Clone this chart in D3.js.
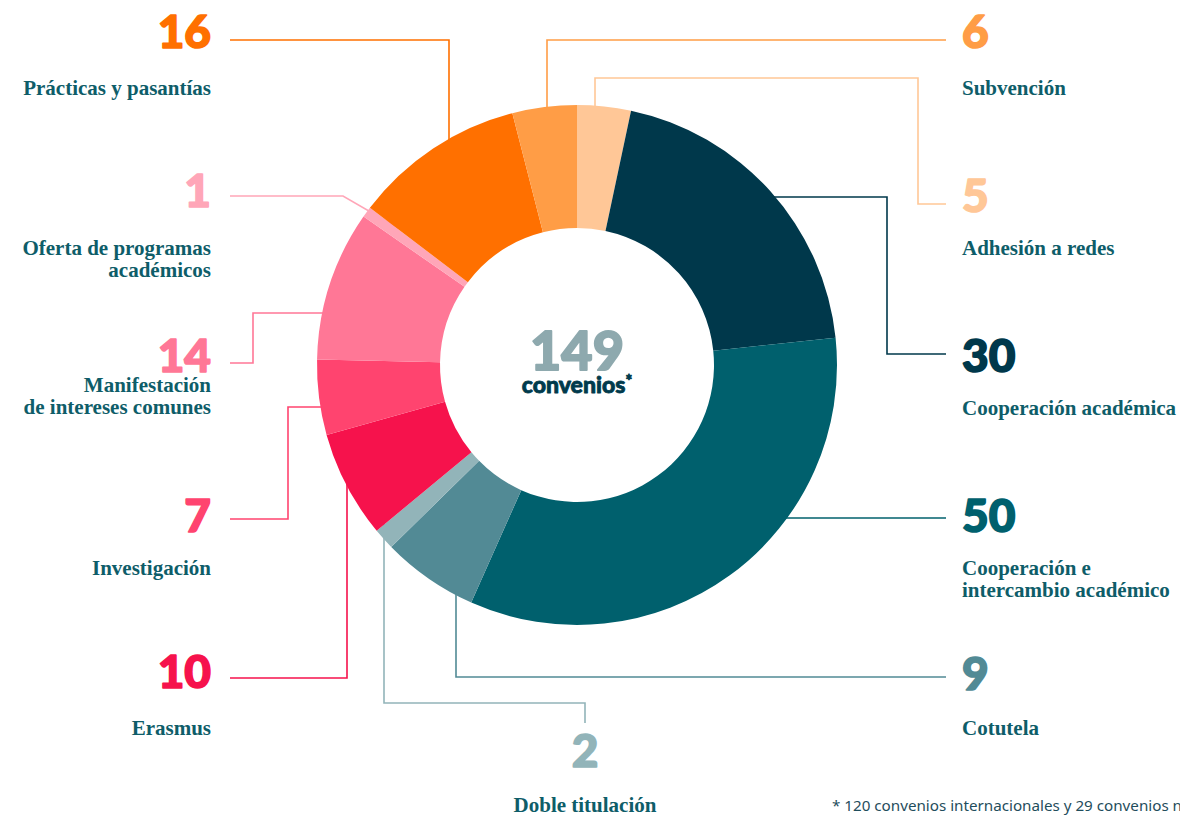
<!DOCTYPE html>
<html>
<head>
<meta charset="utf-8">
<script src="https://cdn.jsdelivr.net/npm/d3@7"></script>
<style>
    body { margin: 0; background: #fff; }
    svg { display: block; }
</style>
</head>
<body>
<div id="viz"></div>
<script>
// data, clockwise from the top
const categories = ["Adhesión a redes", "Cooperación académica", "Cooperación e intercambio académico", "Cotutela", "Doble titulación", "Erasmus", "Investigación", "Manifestación de intereses comunes", "Oferta de programas académicos", "Prácticas y pasantías", "Subvención"];
const values = [5, 30, 50, 9, 2, 10, 7, 14, 1, 16, 6];
const labelLines = [["Adhesión a redes"], ["Cooperación académica"], ["Cooperación e", "intercambio académico"], ["Cotutela"], ["Doble titulación"], ["Erasmus"], ["Investigación"], ["Manifestación", "de intereses comunes"], ["Oferta de programas", "académicos"], ["Prácticas y pasantías"], ["Subvención"]];
const sliceColors = ["#ffc797", "#00384b", "#00606d", "#528a95", "#92b4b9", "#f6124c", "#ff446f", "#ff7796", "#ffa6b8", "#ff7000", "#ff9d46"];
const totalLabel = "149";
const footnote = "* 120 convenios internacionales y 29 convenios nacionales";

document.addEventListener("DOMContentLoaded", () => {
    const width = 1180;
    const height = 817;
    const cx = 577, cy = 365;
    const outerR = 260, innerR = 137;
    const textColor = "#0e5d69";
    const numFont = "'Lato Black', Lato, sans-serif";

    // where each label sits and how its leader line runs
    const layout = [
        {x: 962, anchor: "start", numY: 212, labY: 255, pts: [[946, 204], [918, 204], [918, 78], [595, 78], [595, 150]]},
        {x: 962, anchor: "start", numY: 372, labY: 415, pts: [[946, 354], [887, 354], [887, 197], [740, 197]]},
        {x: 962, anchor: "start", numY: 532, labY: 575, pts: [[946, 518], [740, 518]]},
        {x: 962, anchor: "start", numY: 690, labY: 735, pts: [[946, 677], [456, 677], [456, 560]]},
        {x: 585, anchor: "middle", numY: 767, labY: 812, pts: [[585, 723], [585, 703], [384, 703], [384, 510]]},
        {x: 211, anchor: "end", numY: 688, labY: 735, pts: [[230, 678], [347, 678], [347, 460]]},
        {x: 211, anchor: "end", numY: 532, labY: 575, pts: [[230, 519], [288, 519], [288, 407], [350, 407]]},
        {x: 211, anchor: "end", numY: 372, labY: 392, pts: [[230, 363], [253, 363], [253, 313], [350, 313]]},
        {x: 211, anchor: "end", numY: 207, labY: 255, pts: [[230, 196], [343, 196], [400, 229]]},
        {x: 211, anchor: "end", numY: 48, labY: 95, pts: [[230, 40], [449, 40], [449, 170]]},
        {x: 962, anchor: "start", numY: 48, labY: 95, pts: [[946, 40], [547, 40], [547, 140]]}
    ];

    const svg = d3.select("#viz").append("svg")
        .attr("width", width)
        .attr("height", height);

    const rows = categories.map((c, i) => ({
        name: c,
        value: values[i],
        lines: labelLines[i],
        color: sliceColors[i],
        pos: layout[i]
    }));

    // leader lines go under the ring
    const line = d3.line();
    svg.append("g").selectAll("path")
        .data(rows)
        .enter()
        .append("path")
        .attr("d", d => line(d.pos.pts))
        .attr("fill", "none")
        .attr("stroke", d => d.color)
        .attr("stroke-width", 1.6);

    const pie = d3.pie().sort(null).value(d => d.value);
    const arc = d3.arc().innerRadius(innerR).outerRadius(outerR);

    svg.append("g")
        .attr("transform", `translate(${cx},${cy})`)
        .selectAll("path")
        .data(pie(rows))
        .enter()
        .append("path")
        .attr("d", arc)
        .attr("fill", d => d.data.color);

    // numbers (stroked a little to look heavier)
    svg.append("g").selectAll("text")
        .data(rows)
        .enter()
        .append("text")
        .attr("x", d => d.pos.x)
        .attr("y", d => d.pos.numY)
        .attr("text-anchor", d => d.pos.anchor)
        .attr("fill", d => d.color)
        .attr("stroke", d => d.color)
        .attr("stroke-width", 1.6)
        .attr("stroke-linejoin", "round")
        .style("font-family", numFont)
        .style("font-weight", 900)
        .style("font-size", "46px")
        .text(d => d.value);

    // category names
    const labels = svg.append("g").selectAll("text")
        .data(rows)
        .enter()
        .append("text")
        .attr("x", d => d.pos.x)
        .attr("y", d => d.pos.labY)
        .attr("text-anchor", d => d.pos.anchor)
        .attr("fill", textColor)
        .style("font-family", "'Liberation Serif', serif")
        .style("font-weight", 700)
        .style("font-size", "21px");

    labels.selectAll("tspan")
        .data(d => d.lines.map(l => ({l, x: d.pos.x})))
        .enter()
        .append("tspan")
        .attr("x", d => d.x)
        .attr("dy", (d, i) => i === 0 ? 0 : 22)
        .text(d => d.l);

    // centre
    svg.append("text")
        .attr("x", cx)
        .attr("y", 370)
        .attr("text-anchor", "middle")
        .attr("fill", "#8ea9ae")
        .attr("stroke", "#8ea9ae")
        .attr("stroke-width", 1.8)
        .attr("stroke-linejoin", "round")
        .style("font-family", numFont)
        .style("font-weight", 900)
        .style("font-size", "54px")
        .text(totalLabel);

    const conv = svg.append("text")
        .attr("x", cx)
        .attr("y", 393)
        .attr("text-anchor", "middle")
        .attr("fill", "#003a4c")
        .attr("stroke", "#003a4c")
        .attr("stroke-width", 0.8)
        .attr("stroke-linejoin", "round")
        .style("font-family", numFont)
        .style("font-weight", 900)
        .style("font-size", "23px");
    conv.append("tspan").text("convenios");
    conv.append("tspan").attr("dy", -6).style("font-size", "16px").text("*");

    svg.append("text")
        .attr("x", 832)
        .attr("y", 811)
        .attr("fill", "#1f4d5c")
        .style("font-family", "'Noto Sans', sans-serif")
        .style("font-size", "15.2px")
        .text(footnote);
});
</script>
</body>
</html>
